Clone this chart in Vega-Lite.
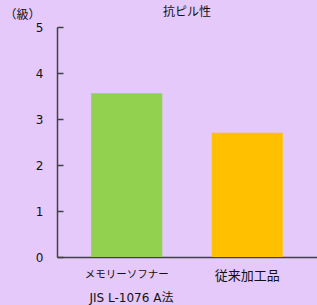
{
  "$schema": "https://vega.github.io/schema/vega-lite/v6.json",
  "width": 260,
  "height": 230,
  "autosize": {"type": "none"},
  "padding": {"left": 57, "top": 27, "right": 0, "bottom": 48},
  "background": "#E5C9FB",
  "config": {
    "view": {"stroke": null},
    "font": "Noto Sans CJK JP",
    "axis": {"domainColor": "#404040", "tickColor": "#404040", "labelColor": "#111111", "titleColor": "#111111", "grid": false}
  },
  "title": {"text": "抗ピル性", "fontSize": 12, "fontWeight": "normal", "offset": 8, "dy": 19, "color": "#111111"},
  "data": {"values": [
    {"product": "メモリーソフナー", "grade": 3.56},
    {"product": "従来加工品", "grade": 2.7}
  ]},
  "mark": {"type": "bar"},
  "encoding": {
    "x": {
      "field": "product", "type": "nominal", "sort": null,
      "scale": {"paddingInner": 0.41, "paddingOuter": 0.284},
      "axis": {"labelAngle": 0, "ticks": false, "labelPadding": 12, "labelFontSize": {"expr": "datum.value == 'メモリーソフナー' ? 10.5 : 13"}, "domainWidth": 1.5,
               "title": "JIS L-1076 A法", "titleFont": "DejaVu Sans, Noto Sans CJK JP", "titleFontSize": 12, "titleFontWeight": "normal", "titleAnchor": "start", "titleX": 32, "titleY": 40, "titleBaseline": "middle"}
    },
    "y": {
      "field": "grade", "type": "quantitative",
      "scale": {"domain": [0, 5]},
      "axis": {"values": [0, 1, 2, 3, 4, 5], "tickSize": -6, "labelPadding": 20, "labelFontSize": 12, "labelFont": "DejaVu Sans", "domainWidth": 1.5, "tickWidth": 1.5,
               "title": "（級）", "titleAngle": 0, "titleFontSize": 12, "titleFontWeight": "normal", "titleAlign": "center", "titleX": -35, "titleY": -13, "titleBaseline": "middle"}
    },
    "color": {
      "field": "product", "type": "nominal", "sort": null,
      "scale": {"range": ["#92D050", "#FFC000"]},
      "legend": null
    }
  }
}
